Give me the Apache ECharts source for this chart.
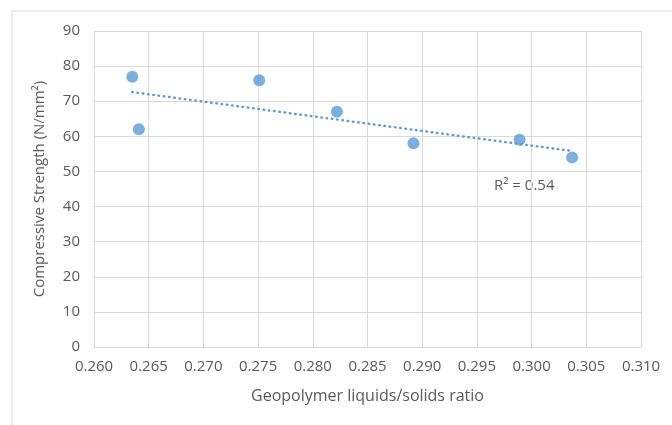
<!DOCTYPE html>
<html>
<head>
<meta charset="utf-8">
<script src="https://cdn.jsdelivr.net/npm/echarts@6/dist/echarts.min.js"></script>
<style>
html,body{margin:0;padding:0;background:#fff;}
#c{width:672px;height:425px;}
</style>
</head>
<body>
<div id="c"></div>
<script>
var ratio = [0.2635, 0.2641, 0.2751, 0.2822, 0.2892, 0.2989, 0.3037];
var strength = [77, 62, 76, 67, 58, 59, 54];
var rSquaredLabel = 'R² = 0.54';
var xTitle = 'Geopolymer liquids/solids ratio';
var yTitle = 'Compressive Strength (N/mm²)';

// linear least-squares trendline from the data
var n = ratio.length, mx = 0, my = 0;
for (var i = 0; i < n; i++) { mx += ratio[i]; my += strength[i]; }
mx /= n; my /= n;
var sxy = 0, sxx = 0;
for (var i = 0; i < n; i++) { sxy += (ratio[i]-mx)*(strength[i]-my); sxx += (ratio[i]-mx)*(ratio[i]-mx); }
var slope = sxy/sxx, icpt = my - slope*mx;
var xMin = Math.min.apply(null, ratio), xMax = Math.max.apply(null, ratio);
var trend = [[xMin, icpt + slope*xMin], [xMax, icpt + slope*xMax]];

var pts = ratio.map(function(x, i){ return [x, strength[i]]; });
var font = 'Open Sans';
var txt = '#595959';
var gridCol = '#d9d9d9';

var chart = echarts.init(document.getElementById('c'));
chart.setOption({
  animation: false,
  grid: {left: 94, right: 31, top: 31, bottom: 78},
  xAxis: {
    type: 'value', min: 0.26, max: 0.31, interval: 0.005,
    name: xTitle, nameLocation: 'middle', nameGap: 41,
    nameTextStyle: {color: txt, fontFamily: font, fontSize: 16},
    axisLine: {show: true, lineStyle: {color: gridCol}},
    axisTick: {show: false},
    splitLine: {show: true, lineStyle: {color: gridCol, width: 1}},
    axisLabel: {color: txt, fontFamily: font, fontSize: 15, margin: 12,
      formatter: function(v){ return v.toFixed(3); }}
  },
  yAxis: {
    type: 'value', min: 0, max: 90, interval: 10,
    name: yTitle, nameLocation: 'middle', nameGap: 47,
    nameTextStyle: {color: txt, fontFamily: font, fontSize: 15},
    axisLine: {show: false},
    axisTick: {show: false},
    splitLine: {show: true, lineStyle: {color: gridCol, width: 1}},
    axisLabel: {color: txt, fontFamily: font, fontSize: 15, margin: 14}
  },
  graphic: [
    {type: 'rect', left: 9.5, top: 8.5, shape: {x: 0, y: 0, width: 700, height: 500},
     style: {fill: 'none', stroke: '#d9d9d9', lineWidth: 1}, silent: true, z: -10},
    {type: 'text', left: 494, top: 178,
     style: {text: rSquaredLabel, fill: txt, font: '15px "Open Sans"'}}
  ],
  series: [
    {type: 'line', data: trend, symbol: 'none', silent: true,
     lineStyle: {color: '#5b9bd5', width: 2.5, type: [0.5, 4.8], cap: 'round'}, z: 2},
    {type: 'scatter', data: pts, symbol: 'circle', symbolSize: 12,
     itemStyle: {color: '#5b9bd5'}, z: 3}
  ]
});
</script>
</body>
</html>
